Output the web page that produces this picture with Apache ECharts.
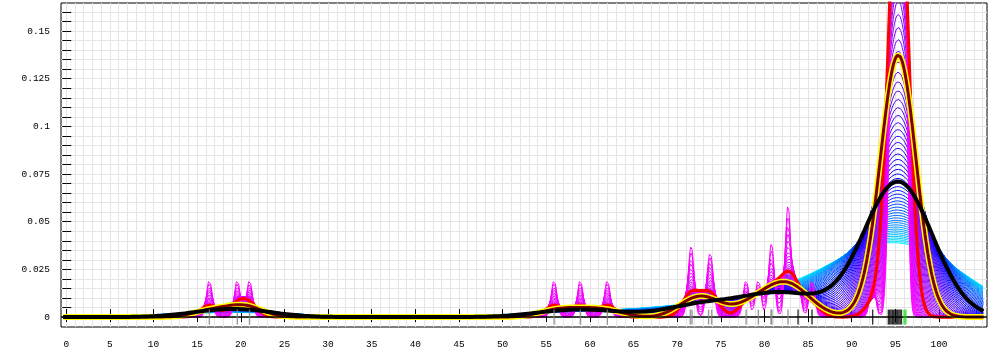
<!DOCTYPE html>
<html><head><meta charset="utf-8">
<script src="https://cdn.jsdelivr.net/npm/echarts@6/dist/echarts.min.js"></script>
<style>html,body{margin:0;padding:0;background:#fff}#c{width:1000px;height:350px}</style>
</head><body><div id="c"></div>
<script>
// ---- observations read from the rug (value, multiplicity) ----
const rugGray = [16.4, 19.6, 21.0, 55.9, 58.9, 62.0, 71.5, 71.7, 73.6, 73.95, 77.9, 79.3, 80.75, 80.85, 82.7];
const rugGrayCount = [1, 1, 1, 1, 1, 1, 1, 1, 1, 1, 1, 1, 1, 1, 3];
const rugBlack = [83.85, 85.45, 92.4, 94.2, 94.35, 94.5, 94.65, 94.8, 94.95, 95.1, 95.25, 95.4, 95.55, 95.7];
const rugBlackCount = [1, 1, 1, 1, 1, 1, 2, 3, 3, 4, 5, 5, 6, 6];
const rugGreen = [96.0, 96.2];
const rugGreenCount = [4, 3];

// ---- kernel bandwidths of the curve family (small -> large) ----
const fanBandwidths = [0.320,0.357,0.396,0.436,0.479,0.523,0.570,0.619,0.669,0.722,
  0.776,0.833,0.891,0.952,1.014,1.078,1.145,1.213,1.284,1.356,
  1.430,1.507,1.585,1.665,1.748,1.832,1.918,2.006,2.097,2.189,
  2.283,2.379,2.477,2.578,2.680,2.784,2.890,2.998,3.108,3.220,
  3.334,3.450,3.568,3.688,3.810,3.934,4.060,4.188,4.318,4.450,
  4.584,4.720,4.858,4.997,5.139,5.283,5.429,5.577,5.726,5.878,
  6.032,6.188,6.345,6.505,6.667,6.830,6.996,7.164,7.333,7.505];
const redBandwidth = 1.0;
const yellowBandwidth = 1.95;
const blackBandwidth = 3.9;

// ---- axis tick values / labels ----
const xTickValues = [0,5,10,15,20,25,30,35,40,45,50,55,60,65,70,75,80,85,90,95,100];
const xGridValues = [0,1,2,3,4,5,6,7,8,9,10,11,12,13,14,15,16,17,18,19,20,21,22,23,24,25,26,27,28,29,30,31,32,33,34,35,36,37,38,39,40,41,42,43,44,45,46,47,48,49,50,51,52,53,54,55,56,57,58,59,60,61,62,63,64,65,66,67,68,69,70,71,72,73,74,75,76,77,78,79,80,81,82,83,84,85,86,87,88,89,90,91,92,93,94,95,96,97,98,99,100,101,102,103,104,105];
const yTickValues = [0,0.005,0.01,0.015,0.02,0.025,0.03,0.035,0.04,0.045,0.05,0.055,0.06,0.065,0.07,0.075,0.08,0.085,0.09,0.095,0.1,0.105,0.11,0.115,0.12,0.125,0.13,0.135,0.14,0.145,0.15,0.155,0.16];
const yLabelValues = [0,0.025,0.05,0.075,0.1,0.125,0.15];

// ---- density evaluation (Gaussian kernel) ----
const obsVals = rugGray.concat(rugBlack, rugGreen);
const obsW = rugGrayCount.concat(rugBlackCount, rugGreenCount);
const nTotal = obsW.reduce((a,b)=>a+b,0);
const xStart = -0.35, xEnd = 105.1, xStep = 0.05;
function density(h){
  const out = [];
  const norm = 1/(nTotal*h*Math.sqrt(2*Math.PI));
  const nS = Math.round((xEnd-xStart)/xStep);
  for(let i=0;i<=nS;i++){
    const x = xStart + i*xStep;
    let s = 0;
    for(let k=0;k<obsVals.length;k++){
      const d = (x-obsVals[k])/h;
      s += obsW[k]*Math.exp(-0.5*d*d);
    }
    out.push([x, s*norm]);
  }
  return out;
}
function hsv(hh){
  hh = ((hh%360)+360)%360/60;
  const c = 1, x = c*(1-Math.abs(hh%2-1));
  let r=0,g=0,b=0;
  if(hh<1){r=c;g=x;}else if(hh<2){r=x;g=c;}else if(hh<3){g=c;b=x;}
  else if(hh<4){g=x;b=c;}else if(hh<5){r=x;b=c;}else{r=c;b=x;}
  const t = v=>Math.round(v*255).toString(16).padStart(2,'0');
  return '#'+t(r)+t(g)+t(b);
}

const series = [];
const hMin = fanBandwidths[0], hMax = fanBandwidths[fanBandwidths.length-1];
for(let i=fanBandwidths.length-1;i>=0;i--){
  const h = fanBandwidths[i];
  const f = Math.pow((h-hMin)/(hMax-hMin), 0.83);
  series.push({type:'line', data: density(h), showSymbol:false, silent:true,
    lineStyle:{width:1, color: hsv(300-115*f)}, z:2});
}
series.push({type:'line', data: density(redBandwidth), showSymbol:false, silent:true,
  lineStyle:{width:3.2, color:'#ff0000'}, z:3});
const yel = density(yellowBandwidth);
series.push({type:'line', data: yel, showSymbol:false, silent:true,
  lineStyle:{width:6, color:'#ffff00'}, z:3});
series.push({type:'line', data: yel, showSymbol:false, silent:true,
  lineStyle:{width:3, color:'#800000'}, z:3});
series.push({type:'line', data: density(blackBandwidth), showSymbol:false, silent:true,
  lineStyle:{width:4, color:'#000000'}, z:4,
  markLine:{silent:true, symbol:['none','none'], label:{show:false}, animation:false,
    lineStyle:{color:'#000', width:1.5, type:'solid'}, data:[{yAxis:0}]}});
function rug(vals, color){
  return {type:'scatter', data: vals.map(v=>[v,0]), symbol:'rect', symbolSize:[1.4,15],
    itemStyle:{color:color}, silent:true, z:5};
}
series.push(rug(rugGray,'#808080'));
series.push(rug(rugBlack,'#000000'));
series.push(rug(rugGreen,'#00dd00'));

const font = {fontFamily:'Liberation Mono', fontSize:9.5, color:'#000'};
const xMin = -0.6, xMax = 105.5, yMin = -0.0052, yMax = 0.1647;
const option = {
  animation:false,
  backgroundColor:'#fff',
  grid:{left:61, top:3, width:926, height:324, show:true, borderColor:'#000', borderWidth:1, backgroundColor:'transparent'},
  xAxis:[
    {type:'value', min:xMin, max:xMax, position:'bottom',
      axisLine:{show:false},
      axisTick:{show:true, inside:true, length:8, customValues:xTickValues, lineStyle:{color:'#000'}},
      axisLabel:{show:true, customValues:xTickValues, margin:12, ...font, formatter:v=>String(v)},
      splitLine:{show:false}},
    {type:'value', min:xMin, max:xMax, position:'top',
      axisLine:{show:false},
      axisTick:{show:true, inside:true, length:5, customValues:xTickValues, lineStyle:{color:'#000'}},
      axisLabel:{show:false}, splitLine:{show:false}},
    {type:'value', min:xMin, max:xMax, position:'bottom',
      axisLine:{show:false},
      axisTick:{show:false, customValues:xGridValues},
      axisLabel:{show:false},
      splitLine:{show:true, lineStyle:{color:'#e4e4e4', width:1}}}
  ],
  yAxis:[
    {type:'value', min:yMin, max:yMax, position:'left',
      axisLine:{show:false},
      axisTick:{show:true, inside:true, length:5, customValues:yTickValues, lineStyle:{color:'#000'}},
      axisLabel:{show:true, customValues:yLabelValues, margin:11, ...font, formatter:v=>String(v)},
      splitLine:{show:true, lineStyle:{color:'#e4e4e4', width:1}}},
    {type:'value', min:yMin, max:yMax, position:'right',
      axisLine:{show:false},
      axisTick:{show:true, inside:true, length:4, customValues:yTickValues, lineStyle:{color:'#000'}},
      axisLabel:{show:false}, splitLine:{show:false}}
  ],
  series: series
};
const chart = echarts.init(document.getElementById('c'), null, {renderer:'canvas'});
chart.setOption(option);
</script>
</body></html>
